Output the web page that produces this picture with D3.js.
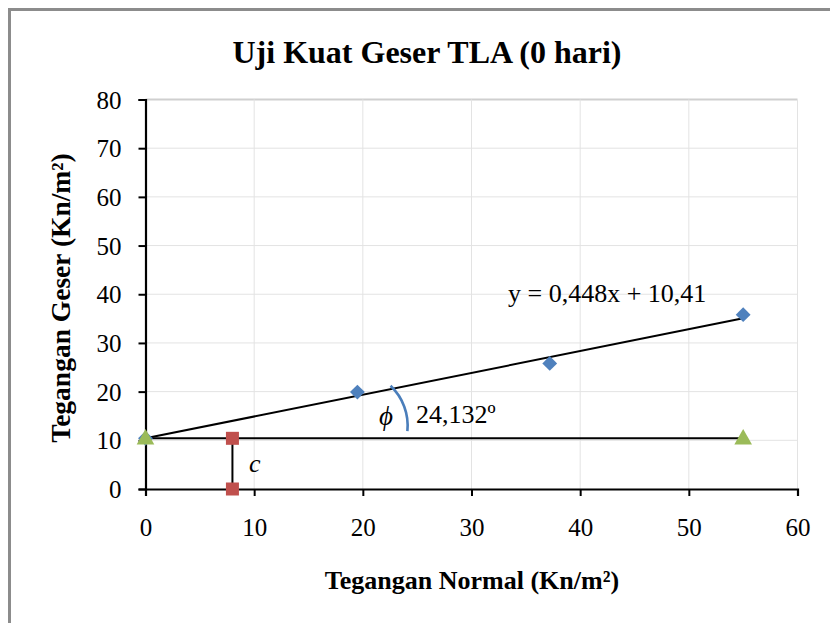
<!DOCTYPE html>
<html>
<head>
<meta charset="utf-8">
<script src="https://cdn.jsdelivr.net/npm/d3@7"></script>
<style>
  html, body { margin: 0; padding: 0; background: #fff; }
  svg { display: block; }
  text { font-family: "Liberation Serif", "Times New Roman", serif; fill: #000; }
</style>
</head>
<body>
<svg id="chart" width="830" height="623"></svg>
<script>
// ---- Data ----
const titleText = "Uji Kuat Geser TLA (0 hari)";
const xTitle = "Tegangan Normal (Kn/m²)";
const yTitle = "Tegangan Geser (Kn/m²)";
const xTicks = [0, 10, 20, 30, 40, 50, 60];
const yTicks = [0, 10, 20, 30, 40, 50, 60, 70, 80];
// measured points (normal stress, shear stress)
const testX = [0, 19.5, 37.2, 55.0];
const testY = [10.41, 19.9, 25.8, 35.8];
// linear trendline
const slope = 0.448;
const intercept = 10.41;
const trendX = [0, 55];
// cohesion marker (red squares)
const cohX = [8, 8];
const cohY = [10.41, 0];
// horizontal reference (green triangles)
const refX = [0, 55];
const refY = [10.41, 10.41];
const equationLabel = "y = 0,448x + 10,41";
const angleLabel = "24,132º";
// angle arc endpoints (data coords)
const arcStart = [22.55, 21.2];
const arcEnd = [24.1, 11.9];

// ---- Layout ----
const svg = d3.select("#chart");
const x = d3.scaleLinear().domain([0, 60]).range([145.5, 797.5]);
const y = d3.scaleLinear().domain([0, 80]).range([489, 99.5]);

// frame
svg.append("rect").attr("x", 9.5).attr("y", 9.5).attr("width", 840).attr("height", 640)
  .attr("fill", "none").attr("stroke", "#8c8c8c").attr("stroke-width", 3);

// grid
svg.append("g").selectAll("line.h").data(yTicks.filter(d => d > 0)).join("line")
  .attr("x1", x(0)).attr("x2", x(60)).attr("y1", d => y(d)).attr("y2", d => y(d))
  .attr("stroke", d => d === 80 ? "#cfcfcf" : "#e3e3e3").attr("stroke-width", d => d === 80 ? 2 : 1);
svg.append("g").selectAll("line.v").data(xTicks.filter(d => d > 0)).join("line")
  .attr("x1", d => x(d)).attr("x2", d => x(d)).attr("y1", y(0)).attr("y2", y(80))
  .attr("stroke", "#e3e3e3").attr("stroke-width", 1);

// axes
const xAxis = svg.append("g").attr("transform", `translate(0,${y(0)})`)
  .call(d3.axisBottom(x).tickValues(xTicks).tickSize(7).tickPadding(22).tickFormat(d3.format("d")));
const yAxis = svg.append("g").attr("transform", `translate(${x(0)},0)`)
  .call(d3.axisLeft(y).tickValues(yTicks).tickSize(7).tickPadding(17).tickFormat(d3.format("d")));
[xAxis, yAxis].forEach(g => {
  g.select(".domain").attr("stroke", "#000").attr("stroke-width", 2.2);
  g.selectAll(".tick line").attr("stroke", "#000").attr("stroke-width", 2);
  g.selectAll(".tick text").attr("font-size", 25).attr("font-family", "Liberation Serif").attr("fill", "#000");
});
yAxis.selectAll(".tick text").attr("dy", "0.34em");

// trendline
const line = d3.line().x(d => x(d[0])).y(d => y(d[1]));
svg.append("path").datum(trendX.map(v => [v, slope * v + intercept]))
  .attr("d", line).attr("stroke", "#000").attr("stroke-width", 2).attr("fill", "none");
// horizontal reference line
svg.append("path").datum(refX.map((v, i) => [v, refY[i]]))
  .attr("d", line).attr("stroke", "#000").attr("stroke-width", 2).attr("fill", "none");
// cohesion line
svg.append("path").datum(cohX.map((v, i) => [v, cohY[i]]))
  .attr("d", line).attr("stroke", "#000").attr("stroke-width", 2).attr("fill", "none");

// blue diamonds
svg.append("g").selectAll("path").data(testX.map((v, i) => [v, testY[i]])).join("path")
  .attr("transform", d => `translate(${x(d[0])},${y(d[1])})`)
  .attr("d", d3.symbol(d3.symbolDiamond2, 140)())
  .attr("fill", "#4f81bd");
// red squares
svg.append("g").selectAll("rect").data(cohX.map((v, i) => [v, cohY[i]])).join("rect")
  .attr("x", d => x(d[0]) - 6.5).attr("y", d => y(d[1]) - 6.5)
  .attr("width", 13).attr("height", 13).attr("fill", "#c0504d");
// green triangles
svg.append("g").selectAll("path").data(refX.map((v, i) => [v, refY[i]])).join("path")
  .attr("transform", d => `translate(${x(d[0])},${y(d[1]) + 1})`)
  .attr("d", d3.symbol(d3.symbolTriangle, 135)())
  .attr("fill", "#9bbb59");

// angle arc
svg.append("path")
  .attr("d", `M${x(arcStart[0])},${y(arcStart[1])} A55,55 0 0 1 ${x(arcEnd[0])},${y(arcEnd[1])}`)
  .attr("fill", "none").attr("stroke", "#4a7ebb").attr("stroke-width", 2.6);

// annotations
svg.append("text").attr("x", 508).attr("y", 302).attr("font-size", 26).text(equationLabel);
svg.append("text").attr("x", 379).attr("y", 425).attr("font-size", 27).attr("font-style", "italic").text("\u03D5");
svg.append("text").attr("x", 416).attr("y", 423).attr("font-size", 26).text(angleLabel);
svg.append("text").attr("x", 249).attr("y", 472).attr("font-size", 26).attr("font-style", "italic").text("c");

// titles
svg.append("text").attr("x", 427).attr("y", 63).attr("text-anchor", "middle")
  .attr("font-size", 32).attr("font-weight", "bold").text(titleText);
svg.append("text").attr("x", 472).attr("y", 589).attr("text-anchor", "middle")
  .attr("font-size", 26).attr("font-weight", "bold").text(xTitle);
svg.append("text").attr("transform", "translate(70,298) rotate(-90)").attr("text-anchor", "middle")
  .attr("font-size", 27.5).attr("font-weight", "bold").text(yTitle);
</script>
</body>
</html>
